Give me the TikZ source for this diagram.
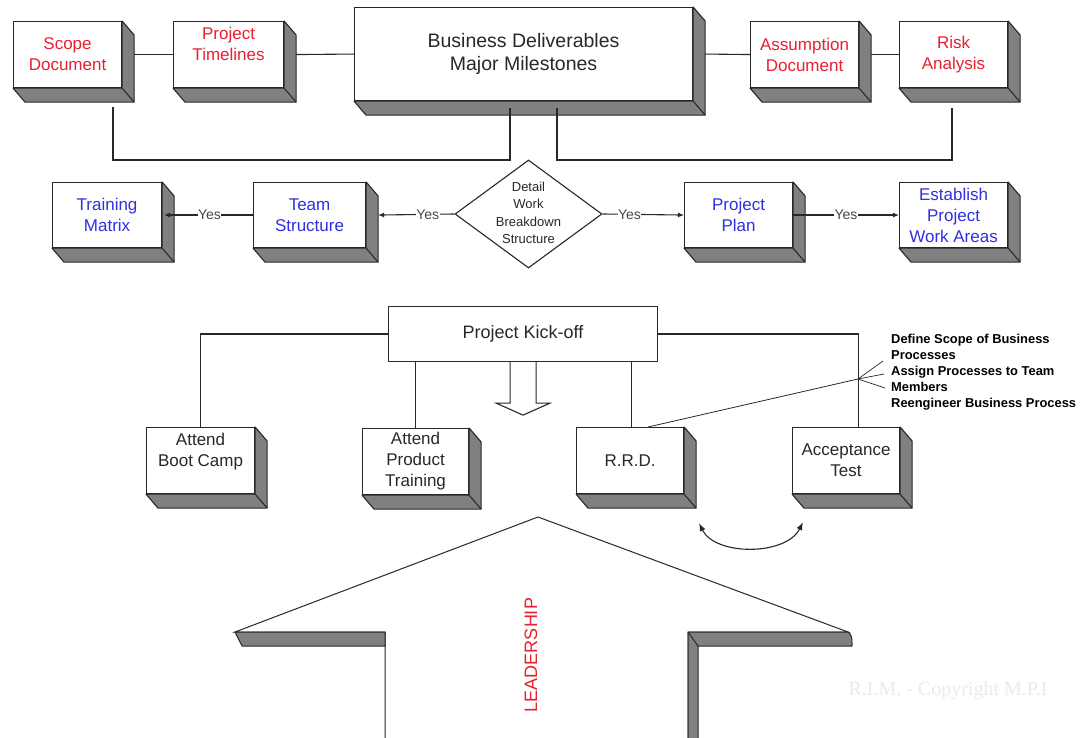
\documentclass[tikz,border=0pt]{standalone}
\usepackage{fontspec}
\setmainfont{Liberation Sans}
\newfontfamily\serifmark{Liberation Serif}
\usetikzlibrary{shapes.geometric,arrows.meta,calc}
\definecolor{boxred}{RGB}{232,32,48}
\definecolor{boxblue}{RGB}{48,48,224}
\definecolor{slab}{RGB}{128,128,128}
\definecolor{ink}{RGB}{40,40,40}

\tikzset{
  face/.style={draw=ink, line width=1.1pt, fill=white, rectangle, inner sep=0pt,
    anchor=north west, align=center},
  boxtext/.style={font=\fontsize{17}{21}\selectfont, text=ink},
  sidefill/.style={draw=ink, line width=1.1pt, fill=slab, line join=round},
  wire/.style={draw=ink, line width=1.1pt},
  flow/.style={wire, -{Latex[length=6pt,width=5pt]}},
  yeslabel/.style={fill=white, inner sep=0.5pt, font=\fontsize{14}{16}\selectfont, text=ink!85},
}

% extruded box: name, left, top, width, height, extra options, text
\newcommand\solidbox[7]{%
  \node[face, boxtext, minimum width=#4pt, minimum height=#5pt, #6] (#1) at (#2,#3) {#7};
  \draw[sidefill] (#1.south west) -- ++(12,14) -- ($(#1.south east)+(12,14)$)
    -- ($(#1.north east)+(12,14)$) -- (#1.north east) -- (#1.south east) -- cycle;
  \draw[sidefill, fill=none] (#1.south east) -- ++(12,14);
}

\begin{document}
\begin{tikzpicture}[x=1pt, y=-1pt]
\fill[white] (0,0) rectangle (1080,738);
\useasboundingbox (0,0) rectangle (1080,738);

% ---- planning row
\solidbox{scope}{13}{21}{108}{66}{text=boxred}{Scope\\Document}
\solidbox{timeline}{173}{21}{110}{66}{text=boxred}{Project\\Timelines\\\mbox{}}
\solidbox{deliver}{354}{7}{338}{93}{font=\fontsize{19.5}{23.5}\selectfont}{Business Deliverables\\Major Milestones}
\solidbox{assume}{750}{21}{108}{66}{text=boxred}{Assumption\\Document}
\solidbox{risk}{899}{21}{108}{66}{text=boxred}{Risk\\Analysis}

\draw[wire] ([xshift=12pt]scope.east) -- (timeline.west);
\draw[wire] ([xshift=12pt]timeline.east) -- (deliver.west);
\draw[wire] ([xshift=12pt]deliver.east) -- (assume.west);
\draw[wire] ([xshift=12pt]assume.east) -- (risk.west);

\coordinate (scopeFoot) at (113,107);
\coordinate (deliverFootL) at (510,108);
\coordinate (deliverFootR) at (557,108);
\coordinate (riskFoot) at (952,108);
\draw[wire] (scopeFoot) |- (510,160) -- (deliverFootL);
\draw[wire] (deliverFootR) |- (952,160) -- (riskFoot);

% ---- work breakdown row
\node[diamond, draw=ink, line width=1.1pt, fill=white, inner sep=0pt,
  minimum width=147pt, minimum height=108pt] (wbs) at (528.5,214) {};
\node[align=center, font=\fontsize{13}{17.5}\selectfont, text=ink] (wbsText) at (528.5,213)
  {Detail\\Work\\Breakdown\\Structure};

\solidbox{train}{52}{182}{109}{65}{text=boxblue}{Training\\Matrix}
\solidbox{team}{253}{182}{112}{65}{text=boxblue}{Team\\Structure}
\solidbox{plan}{684}{182}{108}{65}{text=boxblue}{Project\\Plan}
\solidbox{areas}{899}{182}{108}{65}{text=boxblue}{Establish\\Project\\Work Areas}

\draw[flow] (wbs.west) -- node[yeslabel, pos=0.35] {Yes} ([xshift=12pt]team.east);
\draw[flow] (team.west) -- node[yeslabel, pos=0.49] {Yes} ([xshift=2pt]train.east);
\draw[flow] (wbs.east) -- node[yeslabel, pos=0.33] {Yes} (plan.west);
\draw[flow] (plan.east) -- node[yeslabel, pos=0.5] {Yes} (areas.west);

% ---- kick-off row
\node[face, font=\fontsize{18}{22}\selectfont, text=ink, minimum width=269pt, minimum height=55pt]
  (kick) at (388,306) {Project Kick-off};
\draw[wire, fill=white] ([xshift=-13pt]kick.south) -- ++(0,41) -- ++(-14,0)
  -- ($(kick.south)+(0,53)$) -- ($(kick.south)+(27,41)$) -- ++(-14,0) -- ([xshift=13pt]kick.south);

\solidbox{boot}{146}{427}{108}{66}{}{Attend\\Boot Camp\\\mbox{}}
\solidbox{product}{362}{428}{106}{66}{}{Attend\\Product\\Training}
\solidbox{rrd}{576}{427}{107}{66}{}{R.R.D.}
\solidbox{accept}{792}{427}{107}{66}{}{Acceptance\\Test}

\draw[wire] (kick.west) -| (boot.north);
\draw[wire] (product.north) -- (product.north |- kick.south);
\draw[wire] ([xshift=1pt]rrd.north) -- ([xshift=1pt]rrd.north |- kick.south);
\draw[wire] (kick.east) -| ([xshift=12pt]accept.north);

% process notes for R.R.D.
\coordinate (noteFrom) at ([xshift=18pt]rrd.north);
\coordinate (noteHub) at (858,379);
\coordinate (noteA) at (883,361);
\coordinate (noteB) at (884,374);
\coordinate (noteC) at (885,388);
\draw[wire, line width=0.8pt] (noteFrom) -- (noteHub);
\draw[wire, line width=0.7pt] (noteHub) -- (noteA);
\draw[wire, line width=0.7pt] (noteHub) -- (noteB);
\draw[wire, line width=0.7pt] (noteHub) -- (noteC);
\node[anchor=north west, align=left, inner sep=0pt, text=black,
  font=\bfseries\fontsize{12.9}{16}\selectfont] (notes) at (891,334)
  {Define Scope of Business\\Processes\\Assign Processes to Team\\Members\\Reengineer Business Process};

% iteration between R.R.D. and acceptance
\coordinate (loopL) at ($(rrd.south east)+(15,29)$);
\coordinate (loopR) at ($(accept.south west)+(11,28)$);
\draw[wire, {Latex[length=8pt,width=6pt]}-{Latex[length=8pt,width=6pt]}]
  (loopL) .. controls (715,556) and (786,556) .. (loopR);

% ---- leadership arrow
\draw[wire, line width=1pt, line join=miter] (385,738) -- (385,632) -- (235,632) -- (538,517)
  -- (848,632) -- (688,632) -- (688,738);
\draw[sidefill, line width=1pt] (235,632) -- (385,632) -- (385,646) -- (242,646) -- cycle;
\draw[sidefill, line width=1pt] (688,632) -- (848,632) .. controls (852,636) .. (852,646)
  -- (698,646) -- (698,739) -- (688,739) -- cycle;
\draw[wire, line width=1pt] (688,632) -- (698,646);
\node[rotate=90, text=boxred, font=\fontsize{18}{20}\selectfont] (lead) at (531,655) {LEADERSHIP};

\node[text=black!8, font=\serifmark\fontsize{20}{22}\selectfont] (mark) at (948,691)
  {R.I.M. - Copyright M.P.I};
\end{tikzpicture}
\end{document}
